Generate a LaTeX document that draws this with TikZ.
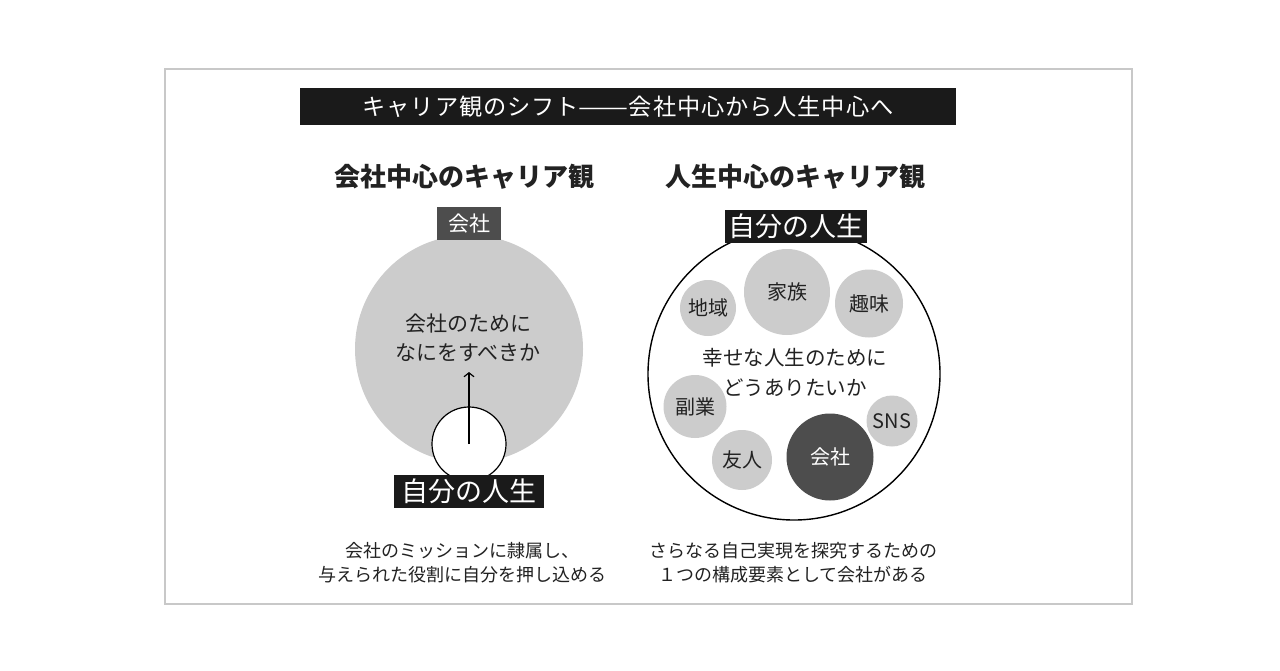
\documentclass[tikz,border=0pt]{standalone}
\usepackage{fontspec}
\usepackage{graphicx}
\setmainfont{Noto Sans CJK JP}
\usetikzlibrary{arrows.meta}
\definecolor{framec}{HTML}{C8C8C8}
\definecolor{barc}{HTML}{1A1A1A}
\definecolor{grayc}{HTML}{CCCCCC}
\definecolor{darkc}{HTML}{4D4D4D}
\definecolor{textc}{HTML}{222222}
\begin{document}
\begin{tikzpicture}[x=1pt,y=-1pt,
  fs/.style={font=\fontsize{#1}{#1}\selectfont},
  bar/.style={fill=barc,text=white,inner sep=0pt},
  head/.style={text=textc,font=\fontsize{26}{26}\selectfont\bfseries},
  bubble/.style={circle,fill=grayc,inner sep=0pt,minimum size=#1,text=textc,font=\fontsize{20}{20}\selectfont},
  caption/.style={align=center,text=textc,font=\fontsize{18}{24}\selectfont},
  ring/.style={circle,draw=black,line width=1.4pt,fill=white,inner sep=0pt,minimum size=#1}]
\useasboundingbox (0,0) rectangle (1280,670);
\fill[white] (0,0) rectangle (1280,670);
\draw[framec,line width=2pt] (164.5,68.5) rectangle (1132,604);

% title
\node[bar,minimum width=656pt,minimum height=37pt,font=\fontsize{23.2}{23.2}\selectfont\addfontfeature{LetterSpace=4}] (title) at (628,106.5) {キャリア観のシフト\resizebox{50pt}{\height}{——}会社中心から人生中心へ};

% headings
\node[head] (h1) at (464,177) {会社中心のキャリア観};
\node[head] (h2) at (795,177) {人生中心のキャリア観};

% left diagram
\node[circle,fill=grayc,inner sep=0pt,minimum size=228pt] (bigL) at (469,349) {};
\node[align=center,text=textc,font=\fontsize{21}{29}\selectfont] (qL) at (468,337.5) {会社のために\\なにをすべきか};
\node[ring=74pt,line width=1.2pt] (selfL) at (469,444) {};
\coordinate (tipL) at (469,372);
\draw[line width=1.2pt,-{Straight Barb[length=4pt,width=10pt]}] (selfL.center) -- (tipL);
\node[fill=darkc,text=white,inner sep=0pt,minimum width=64pt,minimum height=33pt,fs=21] (compL) at (469,223.5) {会社};
\node[bar,minimum width=150pt,minimum height=33pt,fs=27] (lifeL) at (469,491.5) {自分の人生};

% right diagram
\node[ring=292pt] (bigR) at (794,374) {};
\node[bar,minimum width=142pt,minimum height=33pt,fs=27] (lifeR) at (796,226.5) {自分の人生};
\node[bubble=56pt] (b1) at (708,308) {地域};
\node[bubble=86pt] (b2) at (787,292) {家族};
\node[bubble=68pt] (b3) at (869,303.5) {趣味};
\node[bubble=63pt] (b4) at (695,406.5) {副業};
\node[bubble=51pt] (b5) at (892,421) {SNS};
\node[bubble=60pt] (b6) at (742,460) {友人};
\node[bubble=87pt,fill=darkc,text=white] (b7) at (830,457) {会社};
\node[align=center,text=textc,font=\fontsize{20.5}{30}\selectfont] (qR) at (795,372) {幸せな人生のために\\どうありたいか};

% captions
\node[caption] (capL) at (462,563) {会社のミッションに隷属し、\\与えられた役割に自分を押し込める};
\node[caption] (capR) at (793,563) {さらなる自己実現を探究するための\\１つの構成要素として会社がある};
\end{tikzpicture}
\end{document}
